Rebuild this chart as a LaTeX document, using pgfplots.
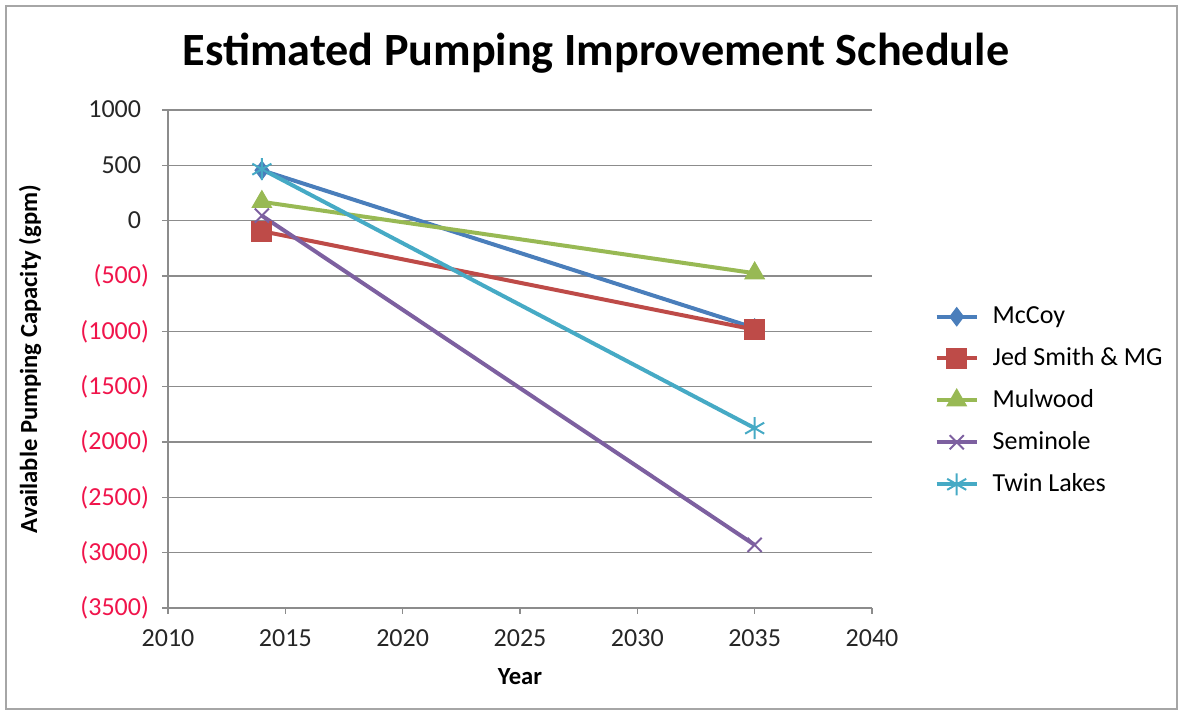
\documentclass[border=0pt]{standalone}
\usepackage{pgfplots}
\pgfplotsset{compat=1.18}
\usepackage{fontspec}
\setmainfont{Carlito}
\definecolor{cMcCoy}{HTML}{4A7EBB}
\definecolor{cJed}{HTML}{BE4B48}
\definecolor{cMul}{HTML}{98B954}
\definecolor{cSem}{HTML}{7D60A0}
\definecolor{cTwin}{HTML}{46AAC5}
\definecolor{negred}{HTML}{F0144B}
\definecolor{gridgray}{HTML}{8C8C8C}
\newcommand{\negv}[1]{\textcolor{negred}{(#1)}}
\newcommand{\posv}[1]{#1\phantom{)}}
\begin{document}
\begin{tikzpicture}
  % picture frame (1183 x 715 px, 1px = 0.5pt)
  \path (0pt,0pt) rectangle (591.5pt,357.5pt);
  \draw[gray!70, line width=0.8pt] (3pt,3pt) rectangle (588.5pt,354.5pt);
  \node[font=\bfseries\fontsize{23.1}{26}\selectfont] at (298pt,331pt) {Estimated Pumping Improvement Schedule};
  \begin{axis}[
    at={(84pt,53.5pt)}, anchor=south west,
    width=352pt, height=249pt, scale only axis,
    xmin=2010, xmax=2040, ymin=-3500, ymax=1000,
    xtick={2010,2015,...,2040},
    xticklabels={2010,2015,2020,2025,2030,2035,2040},
    ytick={-3500,-3000,...,1000},
    yticklabels={\negv{3500},\negv{3000},\negv{2500},\negv{2000},\negv{1500},\negv{1000},\negv{500},\posv{0},\posv{500},\posv{1000}},
    axis x line*=bottom, axis y line*=left,
    axis line style={gridgray, line width=0.6pt},
    tick style={gridgray, line width=0.6pt},
    tick align=outside, major tick length=3pt,
    ymajorgrids, major grid style={gridgray, line width=0.6pt},
    ticklabel style={font=\fontsize{13}{15}\selectfont, text=black!85},
    xticklabel style={yshift=-4.5pt},
    yticklabel style={xshift=-3pt},
    xlabel={Year},
    ylabel={Available Pumping Capacity (gpm)},
    every axis x label/.style={at={(axis description cs:0.5,-0.137)}, anchor=center,
      font=\bfseries\fontsize{12.3}{14}\selectfont},
    every axis y label/.style={at={(axis description cs:-0.196,0.5)}, rotate=90, anchor=center,
      font=\bfseries\fontsize{12.3}{14}\selectfont},
    legend style={draw=none, fill=none, at={(1.08,0.416)}, anchor=west,
      font=\fontsize{13}{15}\selectfont, row sep=6.5pt,
      legend cell align=left},
    legend image code/.code={
      \draw[mark repeat=2,mark phase=2,#1] plot coordinates {(0pt,0pt) (10pt,0pt) (20pt,0pt)};
      \path (25pt,0pt);},
    every axis plot/.append style={line width=2pt},
    clip=false,
  ]
    \addplot[cMcCoy, mark=diamond*, mark size=4.5pt, mark options={solid, line width=0.6pt}]
      coordinates {(2014,455) (2035,-970)};
    \addlegendentry{McCoy}
    \addplot[cJed, mark=square*, mark size=5pt, mark options={solid, line width=0.6pt}]
      coordinates {(2014,-95) (2035,-985)};
    \addlegendentry{Jed Smith \& MG}
    \addplot[cMul, mark=triangle*, mark size=5.5pt, mark options={solid, line width=0.6pt}]
      coordinates {(2014,170) (2035,-475)};
    \addlegendentry{Mulwood}
    \addplot[cSem, mark=x, mark size=5pt, mark options={solid, line width=1pt}]
      coordinates {(2014,45) (2035,-2930)};
    \addlegendentry{Seminole}
    \addplot[cTwin, mark=asterisk, mark size=5.5pt, mark options={solid, line width=1pt}]
      coordinates {(2014,465) (2035,-1875)};
    \addlegendentry{Twin Lakes}
  \end{axis}
\end{tikzpicture}
\end{document}
